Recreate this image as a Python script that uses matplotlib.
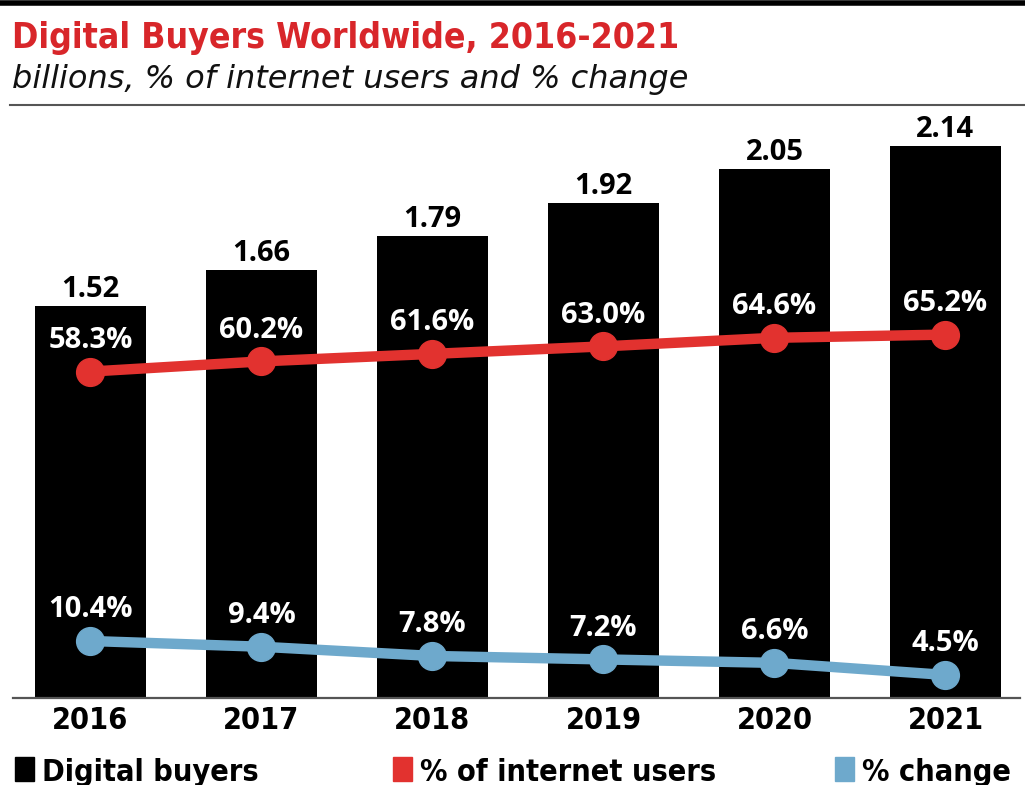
import matplotlib
matplotlib.use('Agg')
import matplotlib.pyplot as plt
from matplotlib.patches import Rectangle
from matplotlib.lines import Line2D

years = ['2016', '2017', '2018', '2019', '2020', '2021']
buyers = [1.52, 1.66, 1.79, 1.92, 2.05, 2.14]          # billions
pct_internet = [58.3, 60.2, 61.6, 63.0, 64.6, 65.2]    # % of internet users
pct_change = [10.4, 9.4, 7.8, 7.2, 6.6, 4.5]           # % change

RED = '#e2322f'
BLUE = '#6ea9cc'
TITLE_RED = '#d8262a'

W, H = 1025, 785
fig = plt.figure(figsize=(W / 100, H / 100), dpi=100)


def fx(px):
    return px / W


def fy(py):
    return 1 - py / H


LABEL_FONT = 'Open Sans'
COND = dict(family='DejaVu Sans', fontstretch='condensed', fontweight='bold')

ax = fig.add_axes([fx(13), fy(698), fx(1007), 588 / H])
x = list(range(len(years)))
ax.bar(x, buyers, width=0.65, color='black', zorder=1)
ax.set_xlim(-0.453, 5.436)
ax.set_ylim(0, 2.279)
ax.set_yticks([])
for s in ['top', 'right', 'left']:
    ax.spines[s].set_visible(False)
ax.spines['bottom'].set_color('#555555')
ax.spines['bottom'].set_linewidth(1.6)
ax.set_xticks(x, years, fontsize=22, **COND)
ax.tick_params(axis='x', length=0, pad=6)

for i, v in enumerate(buyers):
    ax.annotate(f'{v:.2f}', (i, v), xytext=(0, 6.5), textcoords='offset points',
                ha='center', va='baseline', fontsize=21, fontweight='bold',
                family=LABEL_FONT, color='black')

# two overlaid percentage scales on top of the bars
ax_red = ax.twinx()
ax_red.set_ylim(-2.6, 107.1)
ax_blue = ax.twinx()
ax_blue.set_ylim(0.5, 102.6)
for a in (ax_red, ax_blue):
    a.set_yticks([])
    for s in a.spines.values():
        s.set_visible(False)

ax_red.plot(x, pct_internet, color=RED, lw=7.5, marker='o', markersize=20,
            solid_capstyle='round')
ax_blue.plot(x, pct_change, color=BLUE, lw=7.5, marker='o', markersize=20,
             solid_capstyle='round')

for i, v in enumerate(pct_internet):
    ax_red.annotate(f'{v:.1f}%', (i, v), xytext=(0, 17), textcoords='offset points',
                    ha='center', va='baseline', fontsize=21, fontweight='bold',
                    family=LABEL_FONT, color='white')
for i, v in enumerate(pct_change):
    ax_blue.annotate(f'{v:.1f}%', (i, v), xytext=(0, 17), textcoords='offset points',
                     ha='center', va='baseline', fontsize=21, fontweight='bold',
                     family=LABEL_FONT, color='white')

# header rules and titles
fig.add_artist(Line2D([0, 1], [fy(3), fy(3)], lw=4, color='black'))
fig.add_artist(Line2D([fx(10), 1], [fy(105), fy(105)], lw=1.5, color='#555555'))
fig.text(fx(12), fy(48), 'Digital Buyers Worldwide, 2016-2021', fontsize=25.5,
         fontweight='bold', color=TITLE_RED, family='DejaVu Sans',
         fontstretch='condensed', va='baseline')
fig.text(fx(12), fy(88), 'billions, % of internet users and % change', fontsize=23,
         style='italic', color='#111111', family='DejaVu Sans',
         va='baseline')

# legend row
legend_items = [('Digital buyers', 'black', 15, 42),
                ('% of internet users', RED, 393, 420),
                ('% change', BLUE, 835, 862)]
for label, color, sx, tx in legend_items:
    fig.add_artist(Rectangle((fx(sx), fy(781)), fx(19), 24 / H, color=color,
                             transform=fig.transFigure))
    fig.text(fx(tx), fy(781), label, fontsize=22, color='black', va='baseline', **COND)

fig.savefig('out.png', dpi=100, facecolor='white')
